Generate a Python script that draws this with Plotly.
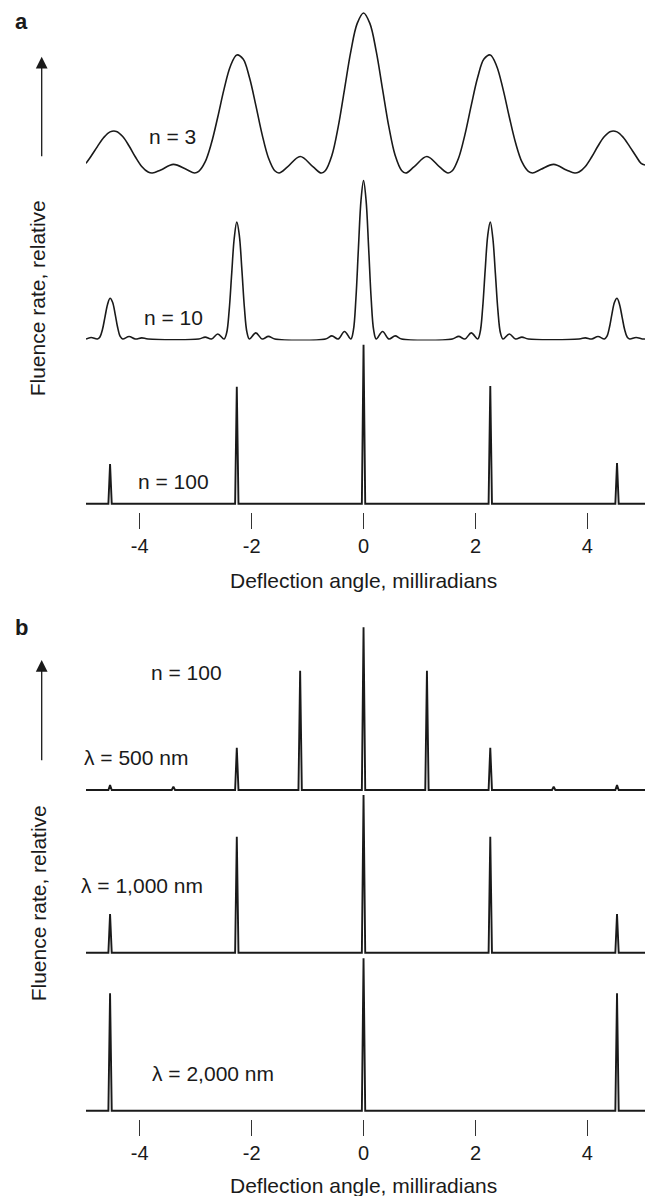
import plotly.graph_objects as go

FIG_W, FIG_H = 652, 1196
FONT = "Liberation Sans, Arial, Helvetica, sans-serif"
INK = "#1a1a1a"

# deflection angle axis, milliradians
x_range = [-4.96, 5.03]
tick_vals = [-4, -2, 0, 2, 4]
tick_text = ["-4", "-2", "0", "2", "4"]

# (a) n = 3 slits, relative fluence rate
n3_x = [-4.96, -4.87, -4.757, -4.643, -4.53, -4.417, -4.304, -4.19, -4.077, -3.964,
        -3.85, -3.775, -3.624, -3.398, -3.171, -3.02, -2.945, -2.831, -2.718, -2.605,
        -2.492, -2.378, -2.265, -2.152, -2.039, -1.925, -1.812, -1.699, -1.586, -1.51,
        -1.359, -1.133, -0.906, -0.755, -0.68, -0.566, -0.453, -0.34, -0.227, -0.113,
        0.0,
        0.113, 0.227, 0.34, 0.453, 0.566, 0.68, 0.755, 0.906, 1.133, 1.359,
        1.51, 1.586, 1.699, 1.812, 1.925, 2.039, 2.152, 2.265, 2.378, 2.492,
        2.605, 2.718, 2.831, 2.945, 3.02, 3.171, 3.398, 3.624, 3.775, 3.85,
        3.964, 4.077, 4.19, 4.304, 4.417, 4.53, 4.643, 4.757, 4.87, 4.96, 5.03]
n3_y = [0.06, 0.105, 0.165, 0.222, 0.257, 0.26, 0.228, 0.169, 0.1, 0.041,
        0.006, 0.0, 0.019, 0.054, 0.023, 0.0, 0.01, 0.069, 0.187, 0.35,
        0.526, 0.669, 0.738, 0.712, 0.597, 0.423, 0.24, 0.094, 0.014, 0.0,
        0.038, 0.103, 0.04, 0.0, 0.016, 0.109, 0.288, 0.523, 0.76, 0.935,
        1.0,
        0.935, 0.76, 0.523, 0.288, 0.109, 0.016, 0.0, 0.04, 0.103, 0.038,
        0.0, 0.014, 0.094, 0.24, 0.423, 0.597, 0.712, 0.738, 0.669, 0.526,
        0.35, 0.187, 0.069, 0.01, 0.0, 0.023, 0.054, 0.019, 0.0, 0.006,
        0.041, 0.1, 0.169, 0.228, 0.26, 0.257, 0.222, 0.165, 0.105, 0.06, 0.05]

# (a) n = 10 slits
n10_x = [-4.96, -4.87, -4.757, -4.711, -4.666, -4.621, -4.575, -4.53, -4.485, -4.439,
         -4.394, -4.349, -4.304, -4.19, -4.077, -3.964, -3.85,
         -2.945, -2.831, -2.718, -2.605, -2.492, -2.446, -2.401, -2.356, -2.31,
         -2.265, -2.22, -2.174, -2.129, -2.084, -2.039, -1.925, -1.812, -1.699, -1.586,
         -0.68, -0.566, -0.453, -0.34, -0.227, -0.181, -0.136, -0.091, -0.045,
         0.0,
         0.045, 0.091, 0.136, 0.181, 0.227, 0.34, 0.453, 0.566, 0.68,
         1.586, 1.699, 1.812, 1.925, 2.039, 2.084, 2.129, 2.174, 2.22,
         2.265, 2.31, 2.356, 2.401, 2.446, 2.492, 2.605, 2.718, 2.831, 2.945,
         3.85, 3.964, 4.077, 4.19, 4.304, 4.349, 4.394, 4.439, 4.485,
         4.53, 4.575, 4.621, 4.666, 4.711, 4.757, 4.87, 4.983, 5.03]
n10_y = [0.0, 0.0095, 0.0, 0.0125, 0.0597, 0.1385, 0.2179, 0.2568, 0.232, 0.1574,
         0.0723, 0.0161, 0.0, 0.0153, 0.0, 0.0072, 0.0,
         0.0, 0.0121, 0.0, 0.0318, 0.0, 0.0391, 0.1825, 0.4144, 0.6386,
         0.738, 0.6544, 0.436, 0.1969, 0.0432, 0.0, 0.0384, 0.0, 0.0166, 0.0,
         0.0, 0.0196, 0.0, 0.0477, 0.0, 0.0558, 0.257, 0.576, 0.876,
         1.0,
         0.876, 0.576, 0.257, 0.0558, 0.0, 0.0477, 0.0, 0.0196, 0.0,
         0.0, 0.0166, 0.0, 0.0384, 0.0, 0.0432, 0.1969, 0.436, 0.6544,
         0.738, 0.6386, 0.4144, 0.1825, 0.0391, 0.0, 0.0318, 0.0, 0.0121, 0.0,
         0.0, 0.0072, 0.0, 0.0153, 0.0, 0.0161, 0.0723, 0.1574, 0.232,
         0.2568, 0.2179, 0.1385, 0.0597, 0.0125, 0.0, 0.0095, 0.0, 0.0]

# (a) n = 100 slits: principal maxima (position, relative height)
n100_pos = [-4.53, -2.265, 0.0, 2.265, 4.53]
n100_h = [0.25, 0.735, 1.0, 0.74, 0.255]

# (b) n = 100 at three wavelengths
lam500_pos = [-4.53, -3.398, -2.265, -1.133, 0.0, 1.133, 2.265, 3.398, 4.53]
lam500_h = [0.03, 0.02, 0.26, 0.733, 1.0, 0.733, 0.26, 0.02, 0.03]
lam1000_pos = [-4.53, -2.265, 0.0, 2.265, 4.53]
lam1000_h = [0.245, 0.735, 1.0, 0.735, 0.245]
lam2000_pos = [-4.53, 0.0, 4.53]
lam2000_h = [0.77, 1.0, 0.77]


def spike_trace(pos, h, half=0.03):
    """Narrow principal maxima sitting on a flat zero baseline."""
    xs, ys = [x_range[0]], [0.0]
    for p, v in zip(pos, h):
        xs += [p - half, p, p + half]
        ys += [0.0, v, 0.0]
    xs.append(x_range[1])
    ys.append(0.0)
    return xs, ys


def fx(px):
    return px / FIG_W


def fy(px):
    return 1 - px / FIG_H


# stacked strips: (baseline pixel row, pixels per unit, lower range, upper range)
strips = [
    (173.0, 160.0, -0.03, 1.02),     # n = 3
    (339.0, 158.5, -0.01, 1.02),     # n = 10
    (503.7, 159.0, -8 / 159.0, 1.02),  # n = 100, bottom axis of (a)
    (790.0, 162.7, -0.02, 1.02),     # 500 nm
    (952.7, 157.7, -0.01, 1.02),     # 1,000 nm
    (1110.7, 152.4, -8 / 152.4, 1.03),  # 2,000 nm, bottom axis of (b)
]

fig = go.Figure()

curves = [
    (n3_x, n3_y, "spline", 1.6),
    (n10_x, n10_y, "spline", 1.6),
    (*spike_trace(n100_pos, n100_h), "linear", 1.9),
    (*spike_trace(lam500_pos, lam500_h), "linear", 1.9),
    (*spike_trace(lam1000_pos, lam1000_h), "linear", 1.9),
    (*spike_trace(lam2000_pos, lam2000_h), "linear", 1.9),
]
for i, (xs, ys, shape, width) in enumerate(curves):
    fig.add_trace(go.Scatter(
        x=xs, y=ys, mode="lines",
        line=dict(color=INK, width=width, shape=shape),
        xaxis="x" if i < 3 else "x2",
        yaxis="y" if i == 0 else f"y{i + 1}",
        hoverinfo="skip", showlegend=False,
    ))

layout_axes = {}
for i, (base, scale, lo, hi) in enumerate(strips):
    bottom_px = base - lo * scale
    top_px = base - hi * scale
    key = "yaxis" if i == 0 else f"yaxis{i + 1}"
    layout_axes[key] = dict(
        domain=[fy(bottom_px), fy(top_px)], range=[lo, hi],
        visible=False, fixedrange=True,
        anchor="x" if i < 3 else "x2",
    )

xaxis_common = dict(
    domain=[fx(86), fx(645)], range=x_range,
    showline=False, showgrid=False, zeroline=False,
    ticks="outside", ticklen=16, tickwidth=1.2, tickcolor="#333333",
    tickvals=tick_vals, ticktext=tick_text,
    tickfont=dict(family=FONT, size=20, color=INK),
    fixedrange=True,
)
layout_axes["xaxis"] = dict(anchor="y3", **xaxis_common)
layout_axes["xaxis2"] = dict(anchor="y6", **xaxis_common)


def label(text, x, y, size=21, xanchor="left", bold=False, angle=0):
    return dict(
        text=f"<b>{text}</b>" if bold else text,
        x=fx(x), y=fy(y), xref="paper", yref="paper",
        xanchor=xanchor, yanchor="middle", showarrow=False,
        textangle=angle, font=dict(family=FONT, size=size, color=INK),
    )


def up_arrow(x, tip_y, tail_y):
    return dict(
        text="", x=fx(x), y=fy(tip_y), xref="paper", yref="paper",
        ax=0, ay=tail_y - tip_y, showarrow=True,
        arrowhead=2, arrowsize=1.8, arrowwidth=1.3, arrowcolor=INK,
    )


annotations = [
    label("a", 21, 22, size=22, xanchor="center", bold=True),
    label("b", 21, 627, size=22, xanchor="center", bold=True),
    up_arrow(41.7, 56.7, 157.7),
    up_arrow(41.7, 660, 761.7),
    label("Fluence rate, relative", 38.3, 298, xanchor="center", angle=-90),
    label("Fluence rate, relative", 38.3, 903, xanchor="center", angle=-90),
    label("n = 3", 147, 137),
    label("n = 10", 142, 318),
    label("n = 100", 136, 481),
    label("Deflection angle, milliradians", 363, 580, xanchor="center"),
    label("n = 100", 149, 672),
    label("λ = 500 nm", 82, 757),
    label("λ = 1,000 nm", 79, 885),
    label("λ = 2,000 nm", 150, 1073),
    label("Deflection angle, milliradians", 363, 1185, xanchor="center"),
]

fig.update_layout(
    width=FIG_W, height=FIG_H, autosize=False,
    margin=dict(l=0, r=0, t=0, b=0),
    paper_bgcolor="white", plot_bgcolor="rgba(0,0,0,0)",
    font=dict(family=FONT, color=INK),
    annotations=annotations,
    **layout_axes,
)

fig.write_html("out.html")
